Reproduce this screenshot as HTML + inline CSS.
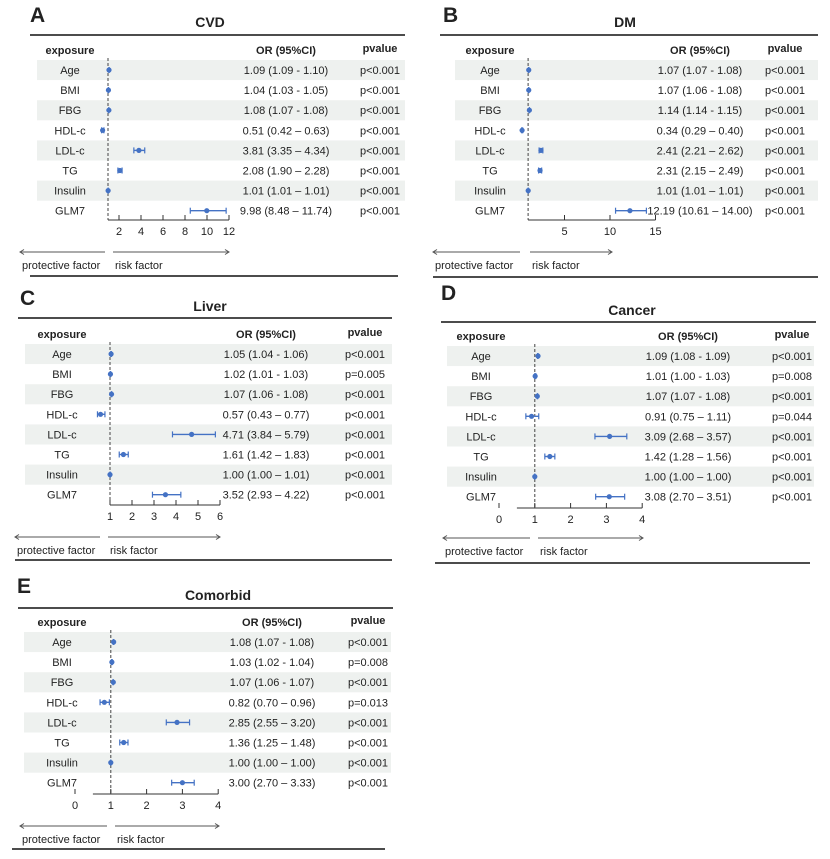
<!DOCTYPE html>
<html><head><meta charset="utf-8"><style>
html,body{margin:0;padding:0;background:#fff;width:830px;height:859px;overflow:hidden}
svg text{font-family:"Liberation Sans",Arial,sans-serif;fill:#222}
</style></head><body>
<svg id="fig" width="830" height="859" viewBox="0 0 830 859" xmlns="http://www.w3.org/2000/svg"></svg>
<script>
const exposures = ["Age","BMI","FBG","HDL-c","LDL-c","TG","Insulin","GLM7"];
// CVD
const cvdOR = [1.09,1.04,1.08,0.51,3.81,2.08,1.01,9.98];
const cvdLo = [1.09,1.03,1.07,0.42,3.35,1.90,1.01,8.48];
const cvdHi = [1.10,1.05,1.08,0.63,4.34,2.28,1.01,11.74];
const cvdP = ["p<0.001","p<0.001","p<0.001","p<0.001","p<0.001","p<0.001","p<0.001","p<0.001"];
const cvdTicks = [2,4,6,8,10,12];
// DM
const dmOR = [1.07,1.07,1.14,0.34,2.41,2.31,1.01,12.19];
const dmLo = [1.07,1.06,1.14,0.29,2.21,2.15,1.01,10.61];
const dmHi = [1.08,1.08,1.15,0.40,2.62,2.49,1.01,14.00];
const dmP = ["p<0.001","p<0.001","p<0.001","p<0.001","p<0.001","p<0.001","p<0.001","p<0.001"];
const dmTicks = [5,10,15];
// Liver
const liverOR = [1.05,1.02,1.07,0.57,4.71,1.61,1.00,3.52];
const liverLo = [1.04,1.01,1.06,0.43,3.84,1.42,1.00,2.93];
const liverHi = [1.06,1.03,1.08,0.77,5.79,1.83,1.01,4.22];
const liverP = ["p<0.001","p=0.005","p<0.001","p<0.001","p<0.001","p<0.001","p<0.001","p<0.001"];
const liverTicks = [1,2,3,4,5,6];
// Cancer
const cancerOR = [1.09,1.01,1.07,0.91,3.09,1.42,1.00,3.08];
const cancerLo = [1.08,1.00,1.07,0.75,2.68,1.28,1.00,2.70];
const cancerHi = [1.09,1.03,1.08,1.11,3.57,1.56,1.00,3.51];
const cancerP = ["p<0.001","p=0.008","p<0.001","p=0.044","p<0.001","p<0.001","p<0.001","p<0.001"];
const cancerTicks = [0,1,2,3,4];
// Comorbid
const comOR = [1.08,1.03,1.07,0.82,2.85,1.36,1.00,3.00];
const comLo = [1.07,1.02,1.06,0.70,2.55,1.25,1.00,2.70];
const comHi = [1.08,1.04,1.07,0.96,3.20,1.48,1.00,3.33];
const comP = ["p<0.001","p=0.008","p<0.001","p=0.013","p<0.001","p<0.001","p<0.001","p<0.001"];
const comTicks = [0,1,2,3,4];

const NS = "http://www.w3.org/2000/svg";
const svg = document.getElementById('fig');
function mk(tag, attrs, parent, text){
  const e = document.createElementNS(NS, tag);
  for (const k in attrs) e.setAttribute(k, attrs[k]);
  if (text !== undefined) e.textContent = text;
  (parent || svg).appendChild(e);
  return e;
}
const BLUE = "#4472c4";
function fmt(v){return v.toFixed(2);}

function panel(cfg){
  const g = mk('g', {});
  
  
  const xs = v => cfg.x0 + cfg.k * v;
  const ys = i => cfg.rowY + i * cfg.step;
  const L = mk('text', {x: cfg.labelX, y: cfg.labelY, 'font-size': 21, 'font-weight': 'bold'}, g, cfg.letter);
  
  
  const T = mk('text', {x: cfg.titleX, y: cfg.titleY, 'font-size': 14, 'font-weight': 'bold', 'text-anchor': 'middle'}, g, cfg.title);
  
  
  const r1 = mk('line', {x1: cfg.ruleX1, x2: cfg.ruleX2, y1: cfg.ruleTop, y2: cfg.ruleTop, stroke: '#111', 'stroke-width': 1.6}, g);
  
  
  const r2 = mk('line', {x1: cfg.bRuleX1, x2: cfg.bRuleX2, y1: cfg.ruleBot, y2: cfg.ruleBot, stroke: '#111', 'stroke-width': 1.6}, g);
  
  
  const hy = cfg.rowY - 20;
  const h1 = mk('text', {x: cfg.expX, y: hy + 4, 'font-size': 11, 'font-weight': 'bold', 'text-anchor': 'middle'}, g, 'exposure');
  
  
  const h2 = mk('text', {x: cfg.orX, y: hy + 4, 'font-size': 11, 'font-weight': 'bold', 'text-anchor': 'middle'}, g, 'OR (95%CI)');
  
  
  const h3 = mk('text', {x: cfg.pX, y: hy + 2, 'font-size': 11, 'font-weight': 'bold', 'text-anchor': 'middle'}, g, 'pvalue');
  
  
  // bands
  for (let i = 0; i < exposures.length; i += 2){
    const b = mk('rect', {x: cfg.bandX1, y: ys(i) - 10, width: cfg.bandX2 - cfg.bandX1, height: cfg.step, fill: '#eef1ef'}, g);
    
    
  }
  // dashed ref line
  const d = mk('line', {x1: xs(1), x2: xs(1), y1: ys(0) - 12, y2: cfg.axisY, stroke: '#444', 'stroke-width': 1, 'stroke-dasharray': '3,2'}, g);
  
  
  exposures.forEach((ex, i) => {
    const y = ys(i);
    const t = mk('text', {x: cfg.expX, y: y + 4, 'font-size': 11, 'text-anchor': 'middle'}, g, ex);
    
    
    const dash = i < 3 ? ' - ' : ' – ';
    const o = mk('text', {x: cfg.orX, y: y + 4, 'font-size': 11, 'text-anchor': 'middle'}, g,
      fmt(cfg.or[i]) + ' (' + fmt(cfg.lo[i]) + dash + fmt(cfg.hi[i]) + ')');
    
    
    const p = mk('text', {x: cfg.pX, y: y + 4, 'font-size': 11, 'text-anchor': 'middle'}, g, cfg.p[i]);
    
    
    const ci = mk('line', {x1: xs(cfg.lo[i]), x2: xs(cfg.hi[i]), y1: y, y2: y, stroke: BLUE, 'stroke-width': 1.4}, g);
    
    
    [cfg.lo[i], cfg.hi[i]].forEach(v => {
      const c = mk('line', {x1: xs(v), x2: xs(v), y1: y - 3, y2: y + 3, stroke: BLUE, 'stroke-width': 1.2}, g);
      
      
    });
    const pt = mk('circle', {cx: xs(cfg.or[i]), cy: y, r: 2.6, fill: BLUE}, g);
    
    
  });
  // axis
  const ax = mk('line', {x1: xs(cfg.axStart), x2: xs(cfg.axEnd), y1: cfg.axisY, y2: cfg.axisY, stroke: '#333', 'stroke-width': 1}, g);
  
  
  cfg.ticks.forEach(v => {
    const tk = mk('line', {x1: xs(v), x2: xs(v), y1: cfg.axisY, y2: cfg.axisY - 5, stroke: '#333', 'stroke-width': 1}, g);
    
    
    const tl = mk('text', {x: xs(v), y: cfg.axisY + 15, 'font-size': 11, 'text-anchor': 'middle'}, g, String(v));
    
    
  });
  // arrows
  const ay = cfg.arrowY;
  const a1 = mk('path', {d: `M${cfg.arL1},${ay} H${cfg.arL2} M${cfg.arL1+4},${ay-2.5} L${cfg.arL1},${ay} L${cfg.arL1+4},${ay+2.5}`, stroke: '#555', fill: 'none', 'stroke-width': 1}, g);
  
  
  const a2 = mk('path', {d: `M${cfg.arR1},${ay} H${cfg.arR2} M${cfg.arR2-4},${ay-2.5} L${cfg.arR2},${ay} L${cfg.arR2-4},${ay+2.5}`, stroke: '#555', fill: 'none', 'stroke-width': 1}, g);
  
  
  const pl = mk('text', {x: cfg.arL1 + 2, y: ay + 17, 'font-size': 11}, g, 'protective factor');
  
  
  const rl = mk('text', {x: cfg.arR1 + 2, y: ay + 17, 'font-size': 11}, g, 'risk factor');
  
  
}

panel({name:'cvd', letter:'A', title:'CVD', labelX:30, labelY:22, titleX:210, titleY:27,
  ruleX1:30, ruleX2:405, ruleTop:35, bRuleX1:30, bRuleX2:398, ruleBot:276,
  expX:70, orX:286, pX:380, bandX1:37, bandX2:405, rowY:70, step:20.1,
  x0:97, k:11, axStart:1, axEnd:12, axisY:220, ticks:cvdTicks,
  arrowY:252, arL1:20, arL2:105, arR1:113, arR2:229,
  or:cvdOR, lo:cvdLo, hi:cvdHi, p:cvdP});
panel({name:'dm', letter:'B', title:'DM', labelX:443, labelY:22, titleX:625, titleY:27,
  ruleX1:440, ruleX2:818, ruleTop:35, bRuleX1:433, bRuleX2:818, ruleBot:277,
  expX:490, orX:700, pX:785, bandX1:455, bandX2:818, rowY:70, step:20.1,
  x0:519, k:9.1, axStart:1, axEnd:15, axisY:220, ticks:dmTicks,
  arrowY:252, arL1:433, arL2:520, arR1:530, arR2:612,
  or:dmOR, lo:dmLo, hi:dmHi, p:dmP});
panel({name:'liver', letter:'C', title:'Liver', labelX:20, labelY:305, titleX:210, titleY:311,
  ruleX1:18, ruleX2:392, ruleTop:318, bRuleX1:15, bRuleX2:392, ruleBot:560,
  expX:62, orX:266, pX:365, bandX1:25, bandX2:392, rowY:354, step:20.1,
  x0:88, k:22, axStart:1, axEnd:6, axisY:505, ticks:liverTicks,
  arrowY:537, arL1:15, arL2:100, arR1:108, arR2:220,
  or:liverOR, lo:liverLo, hi:liverHi, p:liverP});
panel({name:'cancer', letter:'D', title:'Cancer', labelX:441, labelY:300, titleX:632, titleY:315,
  ruleX1:441, ruleX2:816, ruleTop:322, bRuleX1:435, bRuleX2:810, ruleBot:563,
  expX:481, orX:688, pX:792, bandX1:447, bandX2:814, rowY:356, step:20.1,
  x0:499, k:35.8, axStart:0.5, axEnd:4, axisY:508, ticks:cancerTicks,
  arrowY:538, arL1:443, arL2:530, arR1:538, arR2:643,
  or:cancerOR, lo:cancerLo, hi:cancerHi, p:cancerP});
panel({name:'comorbid', letter:'E', title:'Comorbid', labelX:17, labelY:593, titleX:218, titleY:600,
  ruleX1:18, ruleX2:393, ruleTop:608, bRuleX1:12, bRuleX2:385, ruleBot:849,
  expX:62, orX:272, pX:368, bandX1:24, bandX2:391, rowY:642, step:20.1,
  x0:75, k:35.8, axStart:0.5, axEnd:4, axisY:794, ticks:comTicks,
  arrowY:826, arL1:20, arL2:107, arR1:115, arR2:219,
  or:comOR, lo:comLo, hi:comHi, p:comP});
</script>
</body></html>
